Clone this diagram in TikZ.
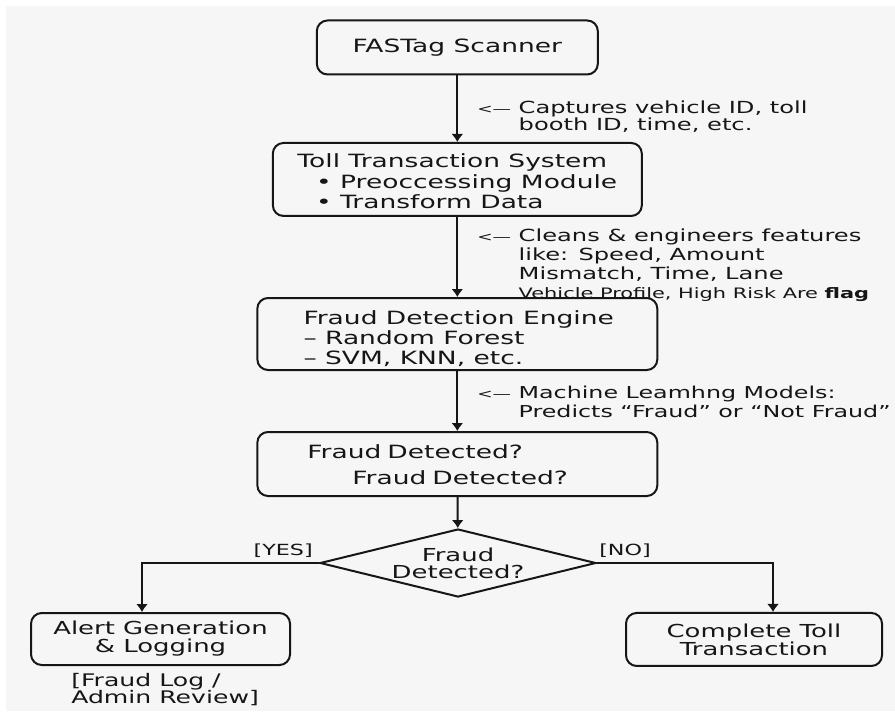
\documentclass[tikz,border=0pt]{standalone}
\usepackage{fontspec}
\setmainfont{DejaVu Sans}[FakeStretch=1.45]
\usetikzlibrary{shapes.geometric,arrows.meta}
\definecolor{paper}{HTML}{F6F6F6}
\definecolor{ink}{HTML}{161616}
\newcommand{\cue}{{\fontsize{9.5}{12}\selectfont<—}\ }
\newcommand{\cuepad}{\hphantom{\cue}}
\newcommand{\topgap}[1]{\rule{0pt}{#1}}
\tikzset{
  box/.style={draw=ink,line width=1.5pt,rounded corners=8pt,align=center,inner sep=0pt},
  note/.style={anchor=north west,align=left,inner sep=0pt,text=ink},
  flow/.style={draw=ink,line width=1.5pt,->}
}
\begin{document}
\begin{tikzpicture}[x=1pt,y=-1pt,>={Latex[length=6pt,width=9pt]},font=\fontsize{13.7}{15}\selectfont,text=ink]
  \useasboundingbox (0,0) rectangle (671.25,533.25);
  \fill[white] (0,0) rectangle (671.25,533.25);
  \fill[paper] (4.5,4.5) rectangle (671.25,533.25);

  % Main column
  \node[box,minimum width=210.75pt,minimum height=40.5pt] (scan) at (343,35.6) {FASTag Scanner};
  \node[box,minimum width=276.75pt,minimum height=54.75pt,align=left,font=\fontsize{13.7}{15.2}\selectfont] (tts) at (343,134.6)
  {\topgap{13pt}Toll Transaction System\\\hspace*{14pt}• Preoccessing Module\\\hspace*{14pt}• Transform Data};
  \node[box,minimum width=300pt,minimum height=54pt,align=left,font=\fontsize{13.7}{14.8}\selectfont] (fde) at (343,250.5)
  {\topgap{17pt}\hspace*{2pt}Fraud Detection Engine\\\hspace*{2pt}– Random Forest\\\hspace*{2pt}– SVM, KNN, etc.};
  \node[box,text width=225pt,inner xsep=37.5pt,minimum height=48pt,align=left] (fd) at (343,348)
  {\topgap{11.5pt}Fraud Detected?\\[4pt]\hspace*{33.75pt}Fraud Detected?};
  \node[draw=ink,line width=1.5pt,diamond,aspect=4.06,inner sep=0pt,minimum width=207pt,minimum height=51pt,align=center,font=\fontsize{13.4}{13}\selectfont] (dec) at (343.5,422.25)
  {Fraud\\Detected?};

  % Outcomes
  \node[box,minimum width=194.25pt,minimum height=39pt,font=\fontsize{13.4}{13.5}\selectfont] (alert) at (120.4,479.25) {Alert Generation\\\& Logging};
  \node[box,minimum width=192pt,minimum height=39.75pt,font=\fontsize{13.4}{13.5}\selectfont] (done) at (565.5,479.6) {Complete Toll\\Transaction};
  \node[note,font=\fontsize{13}{12.8}\selectfont] (log) at (53.25,504.6) {[Fraud Log /\\Admin Review]};

  % Side notes
  \node[note,font=\fontsize{12.5}{12}\selectfont] (n1) at (357.75,75.4)
  {\cue Captures vehicle ID, toll\\\cuepad booth ID, time, etc.};
  \node[note,font=\fontsize{12.5}{14.2}\selectfont] (n2) at (357.75,171.2)
  {\cue Cleans \& engineers features\\\cuepad like: Speed, Amount\\\cuepad Mismatch, Time, Lane\\\cuepad{\fontsize{10.8}{13}\selectfont Vehicle Profile, High Risk Are \textbf{flag}}};
  \node[note,font=\fontsize{12.3}{14.2}\selectfont] (n3) at (357.75,289.2)
  {\cue Machine Leamhng Models:\\\cuepad Predicts “Fraud” or “Not Fraud”};

  % Connectors
  \draw[flow] (scan) -- (tts);
  \draw[flow] (tts) -- (fde);
  \draw[flow] (fde) -- (fd);
  \draw[flow] (fd) -- (dec);
  \draw[flow] (dec.west) -| ([xshift=-13.9pt]alert.north);
  \draw[flow] (dec.east) -| ([xshift=14.25pt]done.north);
  \node[anchor=base east,inner sep=0pt,font=\fontsize{11.5}{13}\selectfont] (yes) at ([xshift=-4.5pt,yshift=6pt]dec.west) {[YES]};
  \node[anchor=base west,inner sep=0pt,font=\fontsize{11.5}{13}\selectfont] (no) at ([xshift=1.5pt,yshift=6pt]dec.east) {[NO]};
\end{tikzpicture}
\end{document}
